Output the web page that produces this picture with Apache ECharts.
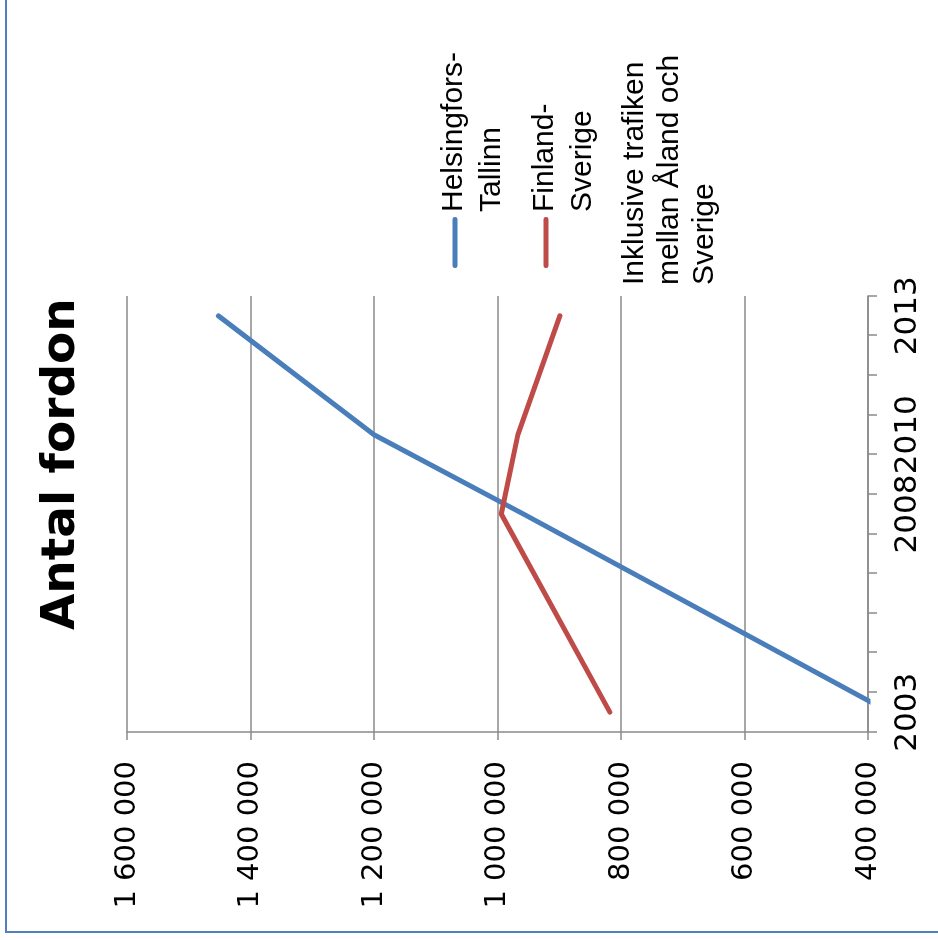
<!DOCTYPE html>
<html>
<head>
<meta charset="utf-8">
<script src="https://cdn.jsdelivr.net/npm/echarts@6/dist/echarts.min.js"></script>
<style>
  html, body { margin: 0; padding: 0; background: #ffffff; width: 938px; height: 940px; overflow: hidden; }
  #frame { position: absolute; left: 5px; top: -10px; width: 950px; height: 943px; box-sizing: border-box;
           border-left: 2px solid #5080be; border-bottom: 2px solid #5080be; }
  #chart { position: absolute; left: 0; top: 0; width: 940px; height: 938px;
           transform-origin: 0 0; transform: translateY(940px) rotate(-90deg); }
</style>
</head>
<body>
<div id="frame"></div>
<div id="chart"></div>
<script>
// ---- data ----
const years = ['2003','2004','2005','2006','2007','2008','2009','2010','2011','2012','2013'];
const labelYears = ['2003','2008','2010','2013'];
const seriesNames = ['Helsingfors-Tallinn', 'Finland-Sverige'];
const helsingforsTallinn = [365000, null, null, null, null, 958000, null, 1200000, null, null, 1452000];
const finlandSverige = [818000, null, null, null, null, 994000, null, 967000, null, null, 899000];
const valueTicks = { min: 400000, max: 1600000, interval: 200000 };
const titleText = 'Antal fordon';
const noteText = 'Inklusive trafiken\nmellan Åland och\nSverige';

const fmt = v => String(v).replace(/\B(?=(\d{3})+(?!\d))/g, ' ');
const gray = '#8a8a8a';
const blue = '#4a7ebb';
const red = '#be4b48';

const chart = echarts.init(document.getElementById('chart'), null, { renderer: 'canvas' });
chart.setOption({
  animation: false,
  title: {
    text: titleText,
    left: 310, top: 38, padding: 0,
    textStyle: { fontFamily: 'DejaVu Sans', fontWeight: 'bold', fontSize: 47, color: '#000' }
  },
  legend: {
    orient: 'vertical',
    left: 672, top: 434.5, padding: 0,
    itemWidth: 51, itemHeight: 40, itemGap: 15,
    icon: 'path://M2.5,0L48.5,0A2.5,2.5,0,0,1,48.5,5L2.5,5A2.5,2.5,0,0,1,2.5,0ZM0,40L0.01,40L0,40.01Z',
    itemStyle: { borderWidth: 0 },
    data: seriesNames,
    formatter: name => name.replace('-', '-\n'),
    textStyle: { fontFamily: 'Liberation Sans', fontSize: 30, lineHeight: 38, color: '#000' }
  },
  graphic: [{
    type: 'text', left: 655, top: 617.5,
    style: { text: noteText, font: '30px "Liberation Sans"', lineHeight: 35, fill: '#000' }
  }],
  grid: { left: 208, right: 296, top: 127, bottom: 70 },
  xAxis: {
    type: 'category',
    data: years,
    boundaryGap: true,
    axisLine: { show: true, lineStyle: { color: gray, width: 1.5 } },
    axisTick: { show: true, interval: 0, length: 9, lineStyle: { color: gray, width: 1.5 } },
    axisLabel: {
      interval: (i, v) => labelYears.includes(v),
      margin: 24,
      fontFamily: 'DejaVu Sans', fontSize: 31, color: '#000'
    },
    splitLine: { show: false }
  },
  yAxis: {
    type: 'value',
    min: valueTicks.min, max: valueTicks.max, interval: valueTicks.interval,
    axisLine: { show: true, lineStyle: { color: gray, width: 1.5 } },
    axisTick: { show: true, length: 8, lineStyle: { color: gray, width: 1.5 } },
    axisLabel: { formatter: fmt, margin: 29, fontFamily: 'DejaVu Sans', fontSize: 29, color: '#000' },
    splitLine: { show: true, lineStyle: { color: gray, width: 1.5 } }
  },
  series: [
    {
      name: seriesNames[0], type: 'line', data: helsingforsTallinn, connectNulls: true,
      symbol: 'none', color: blue,
      lineStyle: { color: blue, width: 5, cap: 'round', join: 'round' }
    },
    {
      name: seriesNames[1], type: 'line', data: finlandSverige, connectNulls: true,
      symbol: 'none', color: red,
      lineStyle: { color: red, width: 5, cap: 'round', join: 'round' }
    }
  ]
});
</script>
</body>
</html>
